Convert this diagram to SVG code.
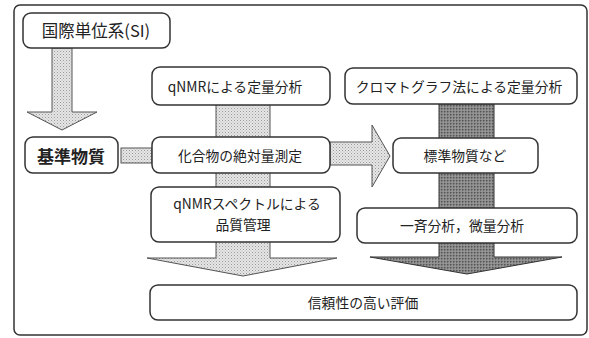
<svg xmlns="http://www.w3.org/2000/svg" width="589" height="338" viewBox="0 0 589 338">
<style>
.box{fill:#fff;stroke:#333;stroke-width:1.5}
.t{font-family:"Noto Sans CJK JP","Liberation Sans",sans-serif;font-size:13.8px;fill:#222;text-anchor:middle;dominant-baseline:central}
.lt{fill:url(#dots);stroke:#555;stroke-width:1}
.dk{fill:url(#hatch);stroke:#333;stroke-width:1}
</style>
<defs>
<pattern id="dots" width="3" height="3" patternUnits="userSpaceOnUse">
<rect width="3" height="3" fill="#e6e6e6"/>
<rect x="0" y="0" width="1" height="1" fill="#9a9a9a"/>
<rect x="1.5" y="1.5" width="1" height="1" fill="#b5b5b5"/>
</pattern>
<pattern id="hatch" width="3" height="3" patternUnits="userSpaceOnUse">
<rect width="3" height="3" fill="#8c8c8c"/>
<rect x="0" y="0" width="1.5" height="1.5" fill="#555"/>
<rect x="1.5" y="1.5" width="1" height="1" fill="#b0b0b0"/>
</pattern>
</defs>
<rect x="14" y="5" width="573" height="330" rx="6" fill="#fff" stroke="#333" stroke-width="1.5"/>
<g id="connectors">
<path class="lt" d="M52,48 L72,48 L72,112 L97,112 L62,130 L27,112 L52,112 Z"/>
<rect class="lt" x="121" y="148" width="31" height="15"/>
<path class="lt" d="M216,104 L270,104 L270,258 L337,258 L243,276 L147,258 L216,258 Z"/>
<path class="lt" d="M330,142 L372,142 L372,125 L390,156 L372,187 L372,165 L330,165 Z"/>
<path class="dk" d="M439,104 L494,104 L494,257 L562,257 L467,274 L370,257 L439,257 Z"/>
</g>
<g id="si"><rect class="box" x="23" y="13" width="147" height="35" rx="8"/><text class="t" x="96" y="30" style="font-size:16.5px">国際単位系(SI)</text></g>
<g id="kijun"><rect class="box" x="25" y="137" width="93" height="36" rx="8"/><text class="t" x="71" y="155" style="font-size:17px;font-weight:bold">基準物質</text></g>
<g id="qnmr"><rect class="box" x="152" y="67" width="178" height="38" rx="8"/><text class="t" x="235" y="86">qNMRによる定量分析</text></g>
<g id="chrom"><rect class="box" x="345" y="68" width="232" height="36" rx="8"/><text class="t" x="459" y="86">クロマトグラフ法による定量分析</text></g>
<g id="kagou"><rect class="box" x="152" y="137" width="178" height="36" rx="8"/><text class="t" x="240" y="155">化合物の絶対量測定</text></g>
<g id="hyoujun"><rect class="box" x="393" y="138" width="145" height="35" rx="8"/><text class="t" x="465" y="155">標準物質など</text></g>
<g id="spectrum"><rect class="box" x="151" y="187" width="189" height="55" rx="8"/><text class="t" x="247" y="203">qNMRスペクトルによる</text><text class="t" x="243" y="224">品質管理</text></g>
<g id="issei"><rect class="box" x="357" y="208" width="220" height="35" rx="8"/><text class="t" x="462" y="225">一斉分析，微量分析</text></g>
<g id="shinrai"><rect class="box" x="150" y="285" width="427" height="35" rx="8"/><text class="t" x="363" y="302">信頼性の高い評価</text></g>
</svg>
